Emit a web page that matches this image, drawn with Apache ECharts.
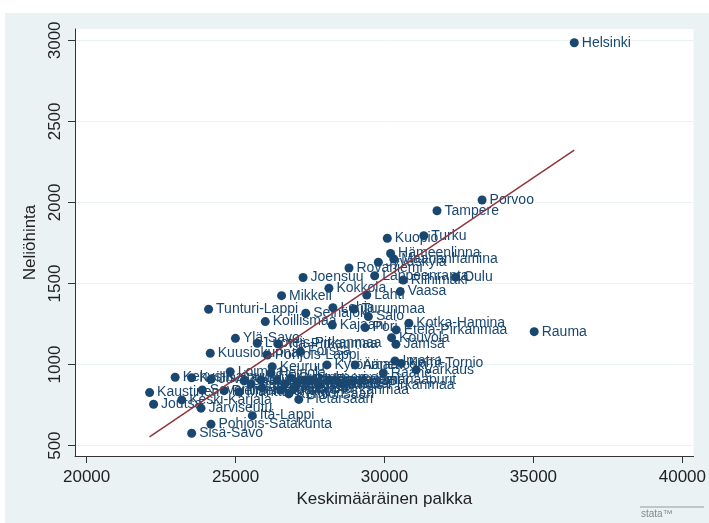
<!DOCTYPE html>
<html>
<head>
<meta charset="utf-8">
<script src="https://cdn.jsdelivr.net/npm/echarts@6/dist/echarts.min.js"></script>
<style>
    body { margin: 0; background: #fff; }
    #bg { position: absolute; left: 5px; top: 13px; width: 704px; height: 510px; background: #eaf2f3; }
    #chart { position: absolute; left: 0; top: 0; width: 709px; height: 523px; }
</style>
</head>
<body>
<div id="bg"></div>
<div id="chart"></div>
<script>
// seutukunnat: keskimääräinen palkka (x) ja neliöhinta (y)
const names = [
    'Helsinki', 'Porvoo', 'Tampere', 'Turku', 'Kuopio', 'Hämeenlinna', 'Maarianhamina', 'Jyväskylä',
    'Rovaniemi', 'Lappeenranta', 'Riihimäki', 'Oulu', 'Lahti', 'Vaasa', 'Kokkola', 'Joensuu',
    'Mikkeli', 'Tunturi-Lappi', 'Seinäjoki', 'Koillismaa', 'Lohja', 'Turunmaa', 'Salo', 'Kajaani',
    'Pori', 'Etelä-Pirkanmaa', 'Kotka-Hamina', 'Kouvola', 'Jämsä', 'Rauma', 'Imatra', 'Kemi-Tornio',
    'Varkaus', 'Raahe', 'Äänekoski', 'Kyrönmaa', 'Keuruu', 'Ylä-Savo', 'Luoteis-Pirkanmaa', 'Ylä-Pirkanmaa',
    'Kuusiokunnat', 'Pohjois-Lappi', 'Forssa', 'Kaustinen', 'Joutsa', 'Keski-Karjala', 'Järviseutu', 'Itä-Lappi',
    'Pohjois-Satakunta', 'Sisä-Savo', 'Pietarsaari', 'Kehys-Kainuu', 'Koillis-Savo', 'Juva', 'Loimaa', 'Savonlinna',
    'Pielisen Karjala', 'Saarijärvi-Viitasaari', 'Haapavesi-Siikalatva', 'Nivala-Haapajärvi', 'Heinola', 'Ylivieska', 'Suupohja', 'Oulunkaari',
    'Härmänmaa', 'Eteläiset Seinänaapurit', 'Vakka-Suomi', 'Kaakkois-Pirkanmaa', 'Raasepori', 'Torniolaakso', 'Lounais-Pirkanmaa', 'Åboland',
    'Mänttä', 'Kemiönsaari'
];
const palkka = [
    36371, 33276, 31763, 31319, 30094, 30204, 30311, 29793,
    28808, 29670, 30628, 32388, 29403, 30528, 28134, 27266,
    26544, 24094, 27356, 25997, 28267, 28982, 29460, 28247,
    29349, 30394, 30818, 30237, 30384, 35026, 30351, 30561,
    31062, 29960, 29015, 28067, 26230, 24995, 25730, 26437,
    24150, 26064, 27179, 22114, 22247, 23192, 23840, 25563,
    24174, 23526, 27122, 22972, 23526, 24174, 24818, 23883,
    24618, 25286, 25520, 25853, 26187, 26387, 26655, 26855,
    27055, 27322, 27523, 27790, 28124, 25890, 26521, 26955,
    25119, 26788
];
const hinta = [
    2985, 2015, 1949, 1795, 1779, 1685, 1651, 1631,
    1596, 1548, 1522, 1539, 1429, 1450, 1471, 1537,
    1425, 1341, 1317, 1265, 1351, 1343, 1296, 1244,
    1228, 1214, 1255, 1166, 1125, 1203, 1022, 1007,
    967, 948, 998, 998, 987, 1162, 1131, 1127,
    1070, 1059, 1080, 827, 755, 782, 731, 685,
    632, 576, 785, 922, 919, 909, 956, 843,
    839, 899, 880, 905, 948, 905, 880, 918,
    887, 905, 902, 874, 905, 856, 843, 850,
    831, 819
];
// sovitettu suora, luettu kuvasta
const fitX = [22110, 36370];
const fitY = [554, 2323];

const xTicks = [20000, 25000, 30000, 35000, 40000];
const yTicks = [500, 1000, 1500, 2000, 2500, 3000];

const font = '"Liberation Sans", Arial, sans-serif';
const myChart = echarts.init(document.getElementById('chart'));

const option = {
    animation: false,
    textStyle: { fontFamily: font },
    grid: {
        left: 75, top: 29, width: 622, height: 427,
        show: true, backgroundColor: '#fff', borderWidth: 0
    },
    xAxis: {
        type: 'value',
        min: 19609,
        max: 40377,
        name: 'Keskimääräinen palkka',
        nameLocation: 'middle',
        nameGap: 29,
        nameTextStyle: { fontSize: 17, color: '#222', fontFamily: font },
        axisLine: { onZero: false, lineStyle: { color: '#333', width: 1 } },
        axisTick: { show: true, length: 7, lineStyle: { color: '#333' }, customValues: xTicks },
        axisLabel: {
            fontSize: 17, color: '#222', margin: 13, customValues: xTicks, fontFamily: font,
            formatter: v => String(v)
        },
        splitLine: { show: false }
    },
    yAxis: {
        type: 'value',
        min: 436,
        max: 3070,
        name: 'Neliöhinta',
        nameLocation: 'middle',
        nameGap: 29,
        nameTextStyle: { fontSize: 17, color: '#222', fontFamily: font },
        axisLine: { show: true, onZero: false, lineStyle: { color: '#333', width: 1 } },
        axisTick: { show: true, length: 7, lineStyle: { color: '#333' }, customValues: yTicks },
        axisLabel: {
            fontSize: 17, color: '#222', margin: 11, rotate: 90, customValues: yTicks, fontFamily: font,
            formatter: v => String(v)
        },
        splitLine: { show: true, lineStyle: { color: '#eaf2f3', width: 1 } }
    },
    series: [
        {
            type: 'scatter',
            symbolSize: 9,
            itemStyle: { color: '#1a476f', opacity: 1 },
            label: {
                show: true,
                position: 'right',
                distance: 3,
                fontSize: 14,
                color: '#1a476f',
                fontFamily: font,
                formatter: function (p) { return p.data[2]; }
            },
            data: names.map((n, i) => [palkka[i], hinta[i], n])
        },
        {
            type: 'line',
            showSymbol: false,
            symbol: 'none',
            lineStyle: { color: '#90353b', width: 1.5 },
            data: fitX.map((x, i) => [x, fitY[i]])
        }
    ],
    graphic: [
        {
            type: 'line',
            shape: { x1: 640, y1: 507, x2: 704, y2: 507 },
            style: { stroke: '#999', lineWidth: 1 }
        },
        {
            type: 'text',
            left: 641,
            top: 509,
            style: { text: 'stata™', fontSize: 10, fill: '#888', fontFamily: font }
        }
    ]
};
myChart.setOption(option);
</script>
</body>
</html>
